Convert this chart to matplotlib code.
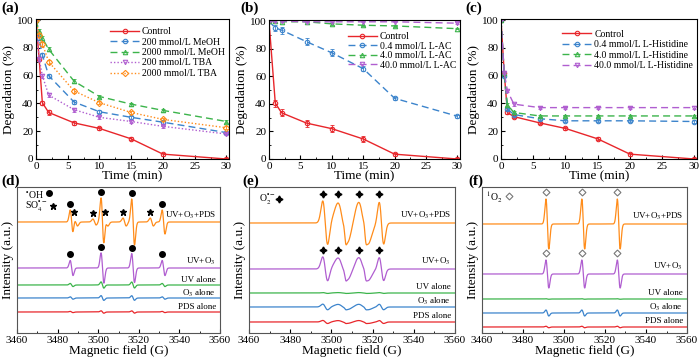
import numpy as np
import matplotlib.pyplot as plt
from matplotlib.ticker import MultipleLocator

plt.rcParams['font.family'] = 'Liberation Serif'
plt.rcParams['mathtext.fontset'] = 'stix'

# ---------------- degradation data ----------------
t_a = [0, 0.5, 1, 2, 6, 10, 15, 20, 30]
ctrl_a = [100, 72, 40.5, 33.5, 26, 22, 14.5, 3.5, 0]
meoh200 = [100, 87, 75, 60, 41, 34, 30, 26.5, 19]
meoh2000 = [100, 92, 87, 79, 56, 45, 39.5, 35, 27]
tba200 = [100, 72, 60, 46, 35.5, 30, 27, 23.5, 18]
tba2000 = [100, 89, 83, 70, 49, 40.5, 33.5, 28.5, 22.5]
err_a = [0, 1.5, 1.5, 1.5, 1.5, 1, 1, 1, 1]

t_b = [0, 1, 2, 6, 10, 15, 20, 30]
ctrl_b = [100, 40.5, 33.5, 26, 22, 14.5, 3.5, 0]
lac04 = [100, 95, 93.5, 85, 77, 65.5, 44, 31]
lac40 = [100, 100, 99.5, 99.5, 98, 97, 96.5, 94.5]
lac400 = [100, 100, 100, 99.5, 99.5, 99.5, 99.5, 98.5]
err_b = [0, 2.5, 2.5, 2.5, 2.5, 2, 1, 1]

t_c = [0, 0.5, 1, 2, 6, 10, 15, 20, 30]
ctrl_c = [100, 62, 33.5, 30.5, 26, 22, 14.5, 3.5, 0]
his04 = [100, 60, 36, 32, 29, 27.5, 27.5, 27.5, 27]
his40 = [100, 62, 39, 33.5, 31, 31, 31, 31, 31]
his400 = [100, 62, 49, 39.5, 37, 37, 37, 37, 37]
err_c = [0, 1, 1, 1, 1, 1, 1, 1, 1]

red = '#e8262b'
blue = '#3c84cc'
green = '#3cb44b'
purple = '#b05ed0'
orange = '#ff8c1a'

# ---------------- EPR data ----------------
traces = ['UV+O$_3$+PDS', 'UV+O$_3$', 'UV alone', 'O$_3$ alone', 'PDS alone']
trace_colors = [orange, purple, green, blue, red]

# (d) DMPO-OH quartet and DMPO-SO4 lines
oh_pos = [3486.9, 3502.1, 3517.2, 3532.2]
oh_amp = [12, 24, 23, 12]
oh_scale = [1, 0.63, 0.13, 0.1, 0.05]
so4_pos = [3489.0, 3498.2, 3504.0, 3513.0, 3526.4]
so4_amp = [4, 3, 4, 4, 4]
so4_scale = [1, 0, 0, 0, 0]

# (e) DMPO-OOH lines
ooh_pos = [3497.0, 3505.5, 3506.5, 3515.5, 3516.3, 3524.3]
ooh_w = [1.2, 2.3, 0.5, 2.3, 0.5, 1.1]
ooh_amp = [22, 20, 4, 21, 4, 21]
ooh_scale = [1, 0.55, 0.02, 0.13, 0.07]
ooh_star = [3495.8, 3503.2, 3513.2, 3523.2]

# (f) TEMP-1O2 triplet
o2_pos = [3491.9, 3509.4, 3526.7]
o2_amp = [25, 25, 25]
o2_scale = [1, 0.56, 0.01, 0.12, 0.03]


def deriv(x, c, w, a):
    return a * -(x - c) / w * np.exp(0.5 - (x - c) ** 2 / (2 * w * w))


field = np.linspace(3460, 3560, 3000)

fig = plt.figure(figsize=(7, 3.61), dpi=100)
W, H = 700, 361


def add_ax(l, t, r, b):
    return fig.add_axes([l / W, 1 - b / H, (r - l) / W, (b - t) / H])


def style_top(ax):
    ax.set_xlim(0, 30.4)
    ax.set_ylim(0, 100.8)
    ax.xaxis.set_major_locator(MultipleLocator(5))
    ax.xaxis.set_minor_locator(MultipleLocator(2.5))
    ax.yaxis.set_major_locator(MultipleLocator(20))
    ax.yaxis.set_minor_locator(MultipleLocator(10))
    ax.tick_params(which='both', direction='in', labelsize=8, pad=2)
    ax.tick_params(which='major', length=3)
    ax.tick_params(which='minor', length=1.5)
    ax.set_xlabel('Time (min)', fontsize=9.5, labelpad=0)
    ax.set_ylabel('Degradation (%)', fontsize=9.5, labelpad=1)


def line(ax, t, y, e, c, m, ls, lab):
    ax.errorbar(t, y, yerr=e, fmt='none', ecolor=c, capsize=1.2,
                elinewidth=0.6, capthick=0.6)
    ax.plot(t, y, color=c, marker=m, mfc='none', ms=3.2, mew=0.8,
            lw=1, ls=ls, label=lab)


def legend(ax, top, spacing):
    ax.legend(loc='upper right', bbox_to_anchor=(1.0, top), fontsize=7, frameon=False,
              labelspacing=spacing, handlelength=3, handletextpad=0.3, borderaxespad=0)


dash = (0, (5, 3))
dot = (0, (1, 1.5))

ax = add_ax(36, 19, 229, 159)
line(ax, t_a, ctrl_a, err_a, red, 'o', '-', 'Control')
line(ax, t_a, meoh200, err_a, blue, 'o', dash, '200 mmol/L MeOH')
line(ax, t_a, meoh2000, err_a, green, '^', dash, '2000 mmol/L MeOH')
line(ax, t_a, tba200, err_a, purple, 'v', dot, '200 mmol/L TBA')
line(ax, t_a, tba2000, err_a, orange, 'D', dot, '2000 mmol/L TBA')
style_top(ax)
legend(ax, 0.97, 0.15)

ax = add_ax(269, 20, 460, 159)
line(ax, t_b, ctrl_b, err_b, red, 'o', '-', 'Control')
line(ax, t_b, lac04, err_b, blue, 'o', dash, '0.4 mmol/L L-AC')
line(ax, t_b, lac40, [0.5] * 8, green, '^', dash, '4.0 mmol/L L-AC')
line(ax, t_b, lac400, [0.5] * 8, purple, 'v', dash, '40.0 mmol/L L-AC')
style_top(ax)
legend(ax, 0.94, 0.05)

ax = add_ax(501, 19, 697, 159)
line(ax, t_c, ctrl_c, err_c, red, 'o', '-', 'Control')
line(ax, t_c, his04, err_c, blue, 'o', dash, '0.4 mmol/L L-Histidine')
line(ax, t_c, his40, err_c, green, '^', dash, '4.0 mmol/L L-Histidine')
line(ax, t_c, his400, err_c, purple, 'v', dash, '40.0 mmol/L L-Histidine')
style_top(ax)
legend(ax, 0.95, 0.15)


def style_epr(ax, h):
    ax.set_xlim(3460, 3560)
    ax.set_ylim(0, h)
    ax.set_yticks([])
    ax.xaxis.set_major_locator(MultipleLocator(20))
    ax.xaxis.set_minor_locator(MultipleLocator(10))
    ax.tick_params(which='both', direction='in', labelsize=8, pad=2)
    ax.tick_params(which='major', length=3)
    ax.tick_params(which='minor', length=1.5)
    ax.set_xlabel('Magnetic field (G)', fontsize=9.5, labelpad=0)
    ax.set_ylabel('Intensity (a.u.)', fontsize=9.5, labelpad=2)
    for s in ax.spines.values():
        s.set_color('#555555')


def trace_labels(ax, bases, gaps):
    for name, b, g in zip(traces, bases, gaps):
        ax.text(3558, b + g, name, fontsize=6.5, ha='right', va='center')


# (d)
ax = add_ax(17, 187, 220, 333)
bases_d = [111, 65, 48, 35, 21]
for i, b in enumerate(bases_d):
    y = np.zeros_like(field) + b
    for p, a in zip(oh_pos, oh_amp):
        y += deriv(field, p, 0.7, a * oh_scale[i])
    for p, a in zip(so4_pos, so4_amp):
        y += deriv(field, p, 0.8, a * so4_scale[i])
    ax.plot(field, y, color=trace_colors[i], lw=0.9)
for i in (0, 1):
    for p, a in zip(oh_pos, oh_amp):
        ax.plot(p - 0.7, bases_d[i] + a * oh_scale[i] + 6, 'o', color='k', ms=4)
for p, a in zip(so4_pos, so4_amp):
    ax.plot(p - 0.8, bases_d[0] + a + 6, '*', color='k', ms=5)
ax.text(3464, 139, '$^{\\bullet}$OH', fontsize=7, va='center')
ax.plot(3476, 140, 'o', color='k', ms=4)
ax.text(3464, 127, 'SO$_4^{\\bullet-}$', fontsize=7, va='center')
ax.plot(3477.5, 127, '*', color='k', ms=5)
trace_labels(ax, bases_d, [7, 7, 5, 5, 5])
style_epr(ax, 146)

# (e)
ax = add_ax(249, 187, 455, 333)
bases_e = [110, 64, 40, 26, 11]
for i, b in enumerate(bases_e):
    y = np.zeros_like(field) + b
    for p, w, a in zip(ooh_pos, ooh_w, ooh_amp):
        y += deriv(field, p, w, a * ooh_scale[i])
    ax.plot(field, y, color=trace_colors[i], lw=0.9)
for i in (0, 1):
    for p in ooh_star:
        ax.plot(p, bases_e[i] + 22 * ooh_scale[i] + 7, marker=(4, 1, 0), color='k', ms=5)
ax.text(3465, 134, 'O$_2^{\\bullet-}$', fontsize=7, va='center')
ax.plot(3474.6, 134, marker=(4, 1, 0), color='k', ms=5)
trace_labels(ax, bases_e, [8, 8, 6, 6, 6])
style_epr(ax, 146)

# (f)
ax = add_ax(482, 187, 687, 333)
bases_f = [109, 59, 34, 20, 6]
for i, b in enumerate(bases_f):
    y = np.zeros_like(field) + b
    for p, a in zip(o2_pos, o2_amp):
        y += deriv(field, p, 0.7, a * o2_scale[i])
    ax.plot(field, y, color=trace_colors[i], lw=0.9)
for i in (0, 1):
    for p, a in zip(o2_pos, o2_amp):
        ax.plot(p - 0.7, bases_f[i] + a * o2_scale[i] + 7, 'D', mfc='none', mec='#777777', ms=3.5, mew=0.8)
ax.text(3462, 136, '$^1$O$_2$', fontsize=7, va='center')
ax.plot(3473, 137, 'D', mfc='none', mec='#777777', ms=3.5, mew=0.8)
trace_labels(ax, bases_f, [8, 8, 6, 6, 6])
style_epr(ax, 146)

for lab, x, y in [('(a)', 1, 8), ('(b)', 240, 8), ('(c)', 465, 8),
                  ('(d)', 1, 181), ('(e)', 242, 181), ('(f)', 468, 181)]:
    fig.text(x / W, 1 - y / H, lab, fontsize=11, fontweight='bold', va='center')

fig.savefig('out.png', dpi=100)
